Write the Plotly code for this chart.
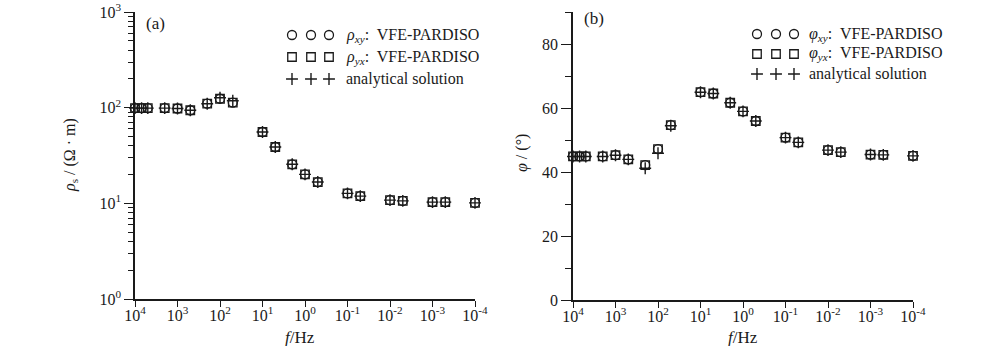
import plotly.graph_objects as go

# Sounding frequencies (Hz)
freq = [1e4, 7e3, 5e3, 2e3, 1e3, 5e2, 2e2, 1e2, 5e1, 1e1, 5, 2, 1, 0.5,
        0.1, 0.05, 0.01, 0.005, 0.001, 0.0005, 0.0001]

# Apparent resistivity (Ohm.m)
rho_xy = [99, 99, 99, 99, 98, 94, 110, 124, 113, 55.7, 38.8, 25.6, 20.1, 16.7,
          12.7, 11.9, 10.8, 10.6, 10.3, 10.3, 10.1]
rho_yx = [99, 99, 99, 99, 98, 94, 110, 124, 113, 55.7, 38.8, 25.6, 20.1, 16.7,
          12.7, 11.9, 10.8, 10.6, 10.3, 10.3, 10.1]
rho_an = [99, 99, 99, 99, 98, 94, 110, 127, 118, 55.7, 38.8, 25.6, 20.1, 16.7,
          12.7, 11.9, 10.8, 10.6, 10.3, 10.3, 10.1]

# Impedance phase (degrees)
phi_xy = [44.9, 44.9, 44.9, 44.9, 45.3, 44.0, 42.2, 47.2, 54.7, 65.0, 64.6, 61.7,
          59.0, 56.0, 50.8, 49.3, 46.9, 46.25, 45.5, 45.4, 45.1]
phi_yx = [44.9, 44.9, 44.9, 44.9, 45.3, 44.0, 42.2, 47.2, 54.7, 65.0, 64.6, 61.7,
          59.0, 56.0, 50.8, 49.3, 46.9, 46.25, 45.5, 45.4, 45.1]
phi_an = [44.9, 44.9, 44.9, 44.9, 45.3, 44.0, 41.2, 45.9, 54.5, 65.0, 64.6, 61.7,
          59.0, 56.0, 50.8, 49.3, 46.9, 46.25, 45.5, 45.4, 45.1]

# Axis tick labels
x_tickvals = [1e4, 1e3, 1e2, 1e1, 1e0, 1e-1, 1e-2, 1e-3, 1e-4]
x_ticktext = ["10<sup>4</sup>", "10<sup>3</sup>", "10<sup>2</sup>", "10<sup>1</sup>",
              "10<sup>0</sup>", "10<sup>-1</sup>", "10<sup>-2</sup>", "10<sup>-3</sup>",
              "10<sup>-4</sup>"]
rho_tickvals = [1, 10, 100, 1000]
rho_ticktext = ["10<sup>0</sup>", "10<sup>1</sup>", "10<sup>2</sup>", "10<sup>3</sup>"]
rho_minor = [m * d for d in (1, 10, 100) for m in range(2, 10)]

W, H = 1000, 346
FONT = "Liberation Serif, Times New Roman, serif"
INK = "#1a1a1a"


def px_x(p):
    return p / W


def px_y(p):
    return 1 - p / H


fig = go.Figure()

styles = [
    dict(symbol="circle-open", size=9, line=dict(width=1.3, color=INK)),
    dict(symbol="square-open", size=8.5, line=dict(width=1.3, color=INK)),
    dict(symbol="cross-thin-open", size=8.5, line=dict(width=1.4, color=INK)),
]

for (xa, ya, series) in [("x", "y", [rho_xy, rho_yx, rho_an]),
                         ("x2", "y2", [phi_xy, phi_yx, phi_an])]:
    for vals, st in zip(series, styles):
        fig.add_trace(go.Scatter(
            x=freq, y=vals, mode="markers", xaxis=xa, yaxis=ya,
            marker=dict(color=INK, **st), cliponaxis=False,
            showlegend=False, hoverinfo="skip"))

# Hand-drawn legend keys (three symbols per row) on a pixel-scaled overlay axis
legend_rows = [
    ([292, 311, 329], [35, 57, 79]),
    ([757, 776, 794], [34, 54, 74]),
]
for xs, ys in legend_rows:
    for y, st in zip(ys, styles):
        fig.add_trace(go.Scatter(
            x=xs, y=[y] * len(xs), mode="markers", xaxis="x3", yaxis="y3",
            marker=dict(color=INK, **st), cliponaxis=False,
            showlegend=False, hoverinfo="skip"))

axis_common = dict(showline=True, linecolor=INK, linewidth=1.5, showgrid=False,
                   zeroline=False, ticks="outside", tickcolor=INK, tickwidth=1.3,
                   tickfont=dict(family=FONT, size=16, color=INK), mirror=False,
                   automargin=False)

fig.update_layout(
    template="none",
    width=W, height=H, margin=dict(l=0, r=0, t=0, b=0, pad=0),
    paper_bgcolor="white", plot_bgcolor="rgba(0,0,0,0)", showlegend=False,
    font=dict(family=FONT, size=16, color=INK),
    xaxis=dict(type="log", range=[4, -4], domain=[px_x(135), px_x(475)], anchor="y",
               tickmode="array", tickvals=x_tickvals, ticktext=x_ticktext, ticklen=6,
               ticklabelstandoff=-5, **axis_common),
    yaxis=dict(type="log", range=[0, 3], domain=[px_y(299), px_y(12)], anchor="x",
               tickmode="array", tickvals=rho_tickvals, ticktext=rho_ticktext, ticklen=9,
               minor=dict(ticks="outside", ticklen=5, tickcolor=INK, tickwidth=1,
                          tickmode="array", tickvals=rho_minor, showgrid=False),
               **axis_common),
    xaxis2=dict(type="log", range=[4, -4], domain=[px_x(573), px_x(913)], anchor="y2",
                tickmode="array", tickvals=x_tickvals, ticktext=x_ticktext, ticklen=6,
                ticklabelstandoff=-5, **axis_common),
    yaxis2=dict(range=[0, 90], domain=[px_y(300), px_y(12.3)], anchor="x2",
                tickmode="linear", tick0=0, dtick=20, ticklen=10,
                minor=dict(ticks="outside", ticklen=6, tickcolor=INK, tickwidth=1,
                           tickmode="linear", tick0=0, dtick=10, showgrid=False),
                **axis_common),
    xaxis3=dict(range=[0, W], domain=[0, 1], visible=False, fixedrange=True,
                anchor="y3", automargin=False),
    yaxis3=dict(range=[H, 0], domain=[0, 1], visible=False, fixedrange=True,
                anchor="x3", automargin=False),
)

ann = []


def text(x, y, s, size=16, xanchor="left", angle=0):
    ann.append(dict(x=px_x(x), y=px_y(y), xref="paper", yref="paper", text=s,
                    showarrow=False, xanchor=xanchor, yanchor="middle",
                    textangle=angle, font=dict(family=FONT, size=size, color=INK)))


# Legend labels
text(344, 35, "<i>ρ<sub>xy</sub></i>:  VFE-PARDISO")
text(344, 57, "<i>ρ<sub>yx</sub></i>:  VFE-PARDISO")
text(344, 79, "analytical solution")
text(807, 34, "<i>φ<sub>xy</sub></i>:  VFE-PARDISO")
text(807, 54, "<i>φ<sub>yx</sub></i>:  VFE-PARDISO")
text(807, 74, "analytical solution")

# Panel labels
text(144, 23, "(a)", size=17)
text(582, 19, "(b)", size=17)

# Axis titles
text(300, 337, "<i>f</i>/Hz", size=17, xanchor="center")
text(743, 337, "<i>f</i>/Hz", size=17, xanchor="center")
text(70, 155, "<i>ρ</i><sub>s</sub> / (Ω · m)", size=16, xanchor="center", angle=-90)
text(522, 153, "<i>φ</i> / (°)", size=16, xanchor="center", angle=-90)

fig.update_layout(annotations=ann)

fig.write_html("out.html")
